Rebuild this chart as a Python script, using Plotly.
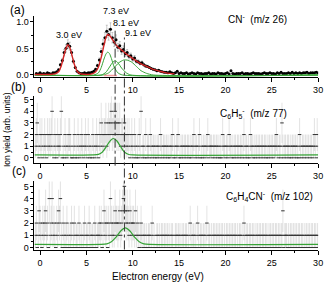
import plotly.graph_objects as go

# ---------------- data ----------------
# (a) CN- ion yield, energy grid -0.4 ... 30.0 eV step 0.2
A_START, A_STEP = -0.4, 0.2
CN_YIELD = [
    0.03, 0.02, 0.04, 0.02, 0.03,
    0.02, 0.04, 0.03, 0.02, 0.04,
    0.04, 0.06, 0.10, 0.19, 0.27,
    0.42, 0.50, 0.58, 0.54, 0.42,
    0.26, 0.14, 0.07, 0.04, 0.03,
    0.03, 0.04, 0.03, 0.04, 0.04,
    0.05, 0.07, 0.11, 0.18, 0.28,
    0.44, 0.58, 0.70, 0.82, 0.76,
    0.86, 0.70, 0.62, 0.66, 0.52,
    0.55, 0.45, 0.48, 0.40, 0.42,
    0.35, 0.36, 0.30, 0.32, 0.26,
    0.25, 0.22, 0.23, 0.19, 0.17,
    0.16, 0.14, 0.12, 0.11, 0.10,
    0.08, 0.09, 0.07, 0.06, 0.05,
    0.05, 0.04, 0.06, 0.04, 0.03,
    0.04, 0.07, 0.03, 0.04, 0.03,
    0.03, 0.04, 0.02, 0.03, 0.04,
    0.03, 0.02, 0.04, 0.03, 0.03,
    0.02, 0.03, 0.03, 0.04, 0.02,
    0.03, 0.03, 0.02, 0.04, 0.03,
    0.03, 0.02, 0.03, 0.04, 0.02,
    0.08, 0.03, 0.02, 0.03, 0.03,
    0.03, 0.04, 0.02, 0.03, 0.03,
    0.02, 0.03, 0.04, 0.03, 0.03,
    0.03, 0.02, 0.03, 0.04, 0.03,
    0.03, 0.04, 0.03, 0.03, 0.02,
    0.04, 0.03, 0.05, 0.03, 0.03,
    0.03, 0.04, 0.03, 0.05, 0.03,
    0.04, 0.03, 0.04, 0.03, 0.04,
    0.04, 0.05, 0.03, 0.04, 0.04,
    0.04, 0.05, 0.04,
]

# red total fit (a)
FIT_X = [-0.6, 1.0, 1.6, 2.0, 2.3, 2.6, 2.8, 3.0, 3.2, 3.4, 3.7, 4.0, 4.4, 5.0, 5.6, 6.0,
         6.3, 6.6, 6.9, 7.1, 7.3, 7.5, 7.8, 8.1, 8.5, 9.0, 9.5, 10.0, 10.5, 11.0, 11.5,
         12.0, 12.5, 13.0, 13.5, 14.0, 14.5]
FIT_Y = [0.01, 0.01, 0.02, 0.06, 0.18, 0.38, 0.50, 0.57, 0.52, 0.40, 0.20, 0.07, 0.02, 0.01, 0.02, 0.06,
         0.15, 0.33, 0.56, 0.70, 0.76, 0.74, 0.67, 0.59, 0.51, 0.44, 0.37, 0.31, 0.25, 0.20, 0.16,
         0.12, 0.09, 0.065, 0.045, 0.03, 0.02]

# green Gaussian components (a)
G1_X = [-0.6, 5.8, 6.3, 6.6, 6.9, 7.1, 7.3, 7.5, 7.7, 8.0, 8.4, 8.9, 30.0]
G1_Y = [0.0, 0.0, 0.04, 0.14, 0.30, 0.39, 0.43, 0.40, 0.31, 0.15, 0.04, 0.0, 0.0]
G2_X = [-0.6, 6.6, 7.1, 7.5, 7.8, 8.1, 8.4, 8.8, 9.3, 9.8, 30.0]
G2_Y = [0.0, 0.0, 0.05, 0.15, 0.23, 0.27, 0.23, 0.13, 0.04, 0.0, 0.0]
G3_X = [-0.6, 6.8, 7.4, 8.0, 8.5, 9.0, 9.4, 9.9, 10.4, 10.9, 11.5, 12.2, 30.0]
G3_Y = [0.0, 0.0, 0.04, 0.14, 0.23, 0.28, 0.28, 0.24, 0.16, 0.08, 0.03, 0.0, 0.0]
PINK_X = [6.9, 8.3]
PINK_Y = [-0.008, -0.008]

# (b) C6H5- and (c) C6H4CN- counts, energy grid -0.5 ... 30.0 eV step 0.1
BC_START, BC_STEP = -0.5, 0.1
C6H5_COUNTS = [
    1, 2, 3, 1, 0, 2, 1, 2, 0, 1,
    2, 1, 0, 2, 1, 2, 1, 2, 4, 1,
    0, 2, 1, 0, 2, 1, 1, 2, 4, 0,
    1, 0, 2, 1, 0, 1, 2, 2, 1, 0,
    0, 1, 2, 0, 1, 0, 2, 1, 0, 1,
    2, 1, 0, 1, 2, 1, 0, 2, 1, 0,
    1, 0, 2, 1, 0, 1, 2, 1, 0, 2,
    1, 3, 2, 1, 2, 2, 3, 1, 2, 3,
    2, 3, 4, 2, 3, 2, 4, 3, 2, 3,
    2, 3, 1, 2, 2, 1, 3, 2, 1, 2,
    1, 2, 0, 1, 2, 1, 0, 2, 1, 0,
    1, 0, 2, 1, 4, 0, 1, 1, 0, 2,
    0, 1, 1, 0, 2, 1, 0, 1, 1, 0,
    1, 0, 1, 1, 0, 2, 1, 0, 1, 1,
    0, 1, 1, 0, 1, 0, 1, 1, 2, 0,
    1, 0, 1, 1, 2, 0, 1, 0, 1, 1,
    0, 1, 1, 0, 1, 1, 0, 1, 0, 1,
    1, 2, 0, 1, 1, 0, 1, 2, 0, 1,
    0, 1, 1, 0, 1, 1, 2, 0, 1, 1,
    1, 0, 1, 1, 0, 1, 1, 0, 1, 0,
    1, 0, 2, 1, 1, 0, 1, 1, 0, 2,
    1, 1, 0, 1, 0, 1, 1, 0, 1, 1,
    0, 1, 1, 0, 1, 2, 0, 1, 1, 0,
    1, 0, 2, 1, 1, 0, 1, 0, 1, 1,
    0, 1, 1, 0, 1, 1, 0, 1, 1, 0,
    1, 0, 1, 1, 0, 1, 1, 0, 1, 1,
    2, 1, 0, 1, 1, 0, 3, 1, 0, 1,
    1, 0, 1, 1, 0, 1, 0, 1, 1, 0,
    1, 1, 0, 1, 0, 2, 1, 0, 1, 1,
    0, 1, 1, 0, 1, 1, 0, 1, 1, 0,
    1, 2, 1, 0, 2, 1,
]
C6H4CN_COUNTS = [
    1, 2, 0, 1, 3, 2, 1, 0, 2, 1,
    2, 3, 1, 2, 0, 4, 1, 2, 4, 1,
    2, 1, 0, 2, 1, 3, 2, 4, 1, 0,
    2, 1, 0, 1, 2, 0, 1, 0, 1, 2,
    0, 1, 2, 0, 1, 1, 0, 2, 1, 0,
    1, 0, 1, 2, 0, 1, 1, 0, 2, 1,
    0, 1, 1, 0, 2, 1, 0, 1, 1, 2,
    1, 2, 0, 1, 3, 2, 1, 2, 0, 2,
    1, 4, 2, 1, 2, 1, 3, 2, 2, 1,
    2, 3, 1, 2, 3, 4, 5, 3, 2, 3,
    2, 1, 3, 2, 1, 2, 2, 1, 3, 1,
    2, 1, 0, 1, 2, 1, 0, 1, 1, 0,
    1, 0, 1, 1, 0, 1, 2, 0, 1, 0,
    0, 1, 1, 0, 1, 0, 1, 1, 0, 1,
    1, 0, 1, 1, 0, 1, 0, 1, 1, 0,
    0, 1, 1, 0, 1, 1, 0, 1, 0, 1,
    1, 0, 1, 1, 0, 1, 0, 2, 1, 0,
    1, 1, 0, 1, 0, 2, 1, 0, 1, 1,
    0, 1, 1, 0, 1, 2, 0, 1, 1, 0,
    1, 0, 1, 1, 0, 1, 1, 0, 1, 1,
    0, 1, 1, 0, 1, 0, 1, 1, 0, 1,
    1, 0, 1, 1, 0, 1, 1, 0, 1, 0,
    1, 1, 0, 1, 0, 2, 1, 0, 1, 1,
    0, 1, 1, 0, 1, 1, 0, 1, 0, 1,
    1, 0, 1, 1, 0, 1, 1, 0, 1, 1,
    0, 1, 0, 1, 1, 0, 1, 1, 0, 1,
    1, 0, 1, 1, 0, 1, 1, 3, 0, 1,
    1, 1, 0, 1, 0, 1, 1, 0, 1, 1,
    0, 1, 1, 0, 1, 1, 0, 1, 1, 0,
    1, 0, 1, 1, 0, 1, 1, 0, 1, 1,
    0, 1, 1, 0, 1, 1,
]

# green fits (b), (c)
GB_X = [-0.6, 5.8, 6.3, 6.7, 7.1, 7.5, 7.9, 8.3, 8.7, 9.1, 9.5, 10.0, 30.0]
GB_Y = [0.25, 0.25, 0.30, 0.48, 0.90, 1.40, 1.66, 1.45, 0.95, 0.50, 0.31, 0.25, 0.25]
GC_X = [-0.6, 6.6, 7.2, 7.7, 8.2, 8.7, 9.2, 9.7, 10.2, 10.7, 11.2, 11.8, 30.0]
GC_Y = [0.25, 0.25, 0.30, 0.48, 0.85, 1.35, 1.60, 1.35, 0.85, 0.48, 0.30, 0.25, 0.25]

PEAK_MARKS = [8.1, 9.1]          # dash-dot guide lines (eV)
PEAK_LABELS = ["3.0 eV", "7.3 eV", "8.1 eV", "9.1 eV"]
TITLES = ["CN<sup>-</sup>  (m/z 26)",
          "C<sub>6</sub>H<sub>5</sub><sup>-</sup>  (m/z 77)",
          "C<sub>6</sub>H<sub>4</sub>CN<sup>-</sup>  (m/z 102)"]

XA = [round(A_START + A_STEP * i, 2) for i in range(len(CN_YIELD))]
XB = [round(BC_START + BC_STEP * i, 2) for i in range(len(C6H5_COUNTS))]
XC = [round(BC_START + BC_STEP * i, 2) for i in range(len(C6H4CN_COUNTS))]

# ---------------- figure ----------------
W, H = 331, 287
FONT = "Arial, Liberation Sans, sans-serif"
RED = "#d32424"
GREEN = "#36a336"
GREY = "rgba(120,120,120,0.55)"

fig = go.Figure()

# (a)
fig.add_trace(go.Scatter(x=XA, y=CN_YIELD, mode="markers", xaxis="x", yaxis="y",
                         marker=dict(symbol="circle", size=3, color="black"),
                         error_y=dict(type="percent", value=14, color=GREY, thickness=0.7, width=1)))
for gx, gy in [(G1_X, G1_Y), (G2_X, G2_Y), (G3_X, G3_Y)]:
    fig.add_trace(go.Scatter(x=gx, y=gy, mode="lines", xaxis="x", yaxis="y",
                             line=dict(color=GREEN, width=1, shape="spline", smoothing=0.6)))
fig.add_trace(go.Scatter(x=PINK_X, y=PINK_Y, mode="lines", xaxis="x", yaxis="y",
                         line=dict(color="#f29a9a", width=1.5)))
fig.add_trace(go.Scatter(x=FIT_X, y=FIT_Y, mode="lines", xaxis="x", yaxis="y",
                         line=dict(color=RED, width=1.4, shape="spline", smoothing=0.6)))

# (b), (c)
for xs, ys, gx, gy, xa, ya in [(XB, C6H5_COUNTS, GB_X, GB_Y, "x2", "y2"),
                               (XC, C6H4CN_COUNTS, GC_X, GC_Y, "x3", "y3")]:
    fig.add_trace(go.Scatter(x=xs, y=ys, mode="markers", xaxis=xa, yaxis=ya,
                             marker=dict(symbol="line-ew", size=2.5, color="black",
                                         line=dict(width=1, color="#333")),
                             error_y=dict(type="sqrt", color="rgba(160,160,160,0.5)",
                                          thickness=0.6, width=0)))
    fig.add_trace(go.Scatter(x=gx, y=gy, mode="lines", xaxis=xa, yaxis=ya,
                             line=dict(color=GREEN, width=1.2, shape="spline", smoothing=0.6)))

def px_x(p):
    return p / W

def px_y(p):
    return 1 - p / H

XR = [-0.6, 30.0]
XDOM = [px_x(35), px_x(323)]
axis_common = dict(showline=True, linecolor="black", linewidth=1, showgrid=False, zeroline=False,
                   ticks="outside", tickcolor="black", tickwidth=1,
                   tickfont=dict(family=FONT, size=9, color="black"))

def xax(anchor):
    return dict(axis_common, range=XR, domain=XDOM, anchor=anchor, dtick=5, tick0=0, ticklen=4,
                minor=dict(dtick=2.5, tick0=0, ticklen=2, ticks="outside", tickcolor="black"))

def yax(anchor, rng, dom, dtick):
    return dict(axis_common, range=rng, domain=dom, anchor=anchor, dtick=dtick, tick0=0, ticklen=3,
                minor=dict(dtick=dtick / 2, tick0=0, ticklen=2, ticks="outside", tickcolor="black"))

fig.update_layout(
    width=W, height=H, margin=dict(l=0, r=0, t=0, b=0),
    paper_bgcolor="white", plot_bgcolor="white", showlegend=False,
    font=dict(family=FONT, color="black"),
    xaxis=xax("y"), xaxis2=xax("y2"), xaxis3=xax("y3"),
    yaxis=dict(yax("x", [-0.04, 1.1], [px_y(77.2), px_y(15.6)], 0.5), tickformat=".1f"),
    yaxis2=yax("x2", [-0.42, 5.3], [px_y(164), px_y(96.5)], 1),
    yaxis3=yax("x3", [-0.2, 5.4], [px_y(252.5), px_y(183)], 1),
)

# dash-dot guide lines
line_spans = [(27, 167), (37, 252)]
for xv, (top, bot) in zip(PEAK_MARKS, line_spans):
    fig.add_shape(type="line", xref="x", yref="paper", x0=xv, x1=xv,
                  y0=px_y(bot), y1=px_y(top),
                  line=dict(color="#333", width=1, dash="dashdot"))

ann = []
for t, (px, py) in zip(["(a)", "(b)", "(c)"], [(8, 9), (9, 87), (10, 172)]):
    ann.append(dict(text=t, xref="paper", yref="paper", x=px_x(px), y=px_y(py),
                    xanchor="left", yanchor="middle", showarrow=False, font=dict(size=12)))
for t, (pxr, py) in zip(TITLES, [(293, 18), (293, 114), (320, 198)]):
    ann.append(dict(text=t, xref="paper", yref="paper", x=px_x(pxr), y=px_y(py),
                    xanchor="right", yanchor="middle", showarrow=False, font=dict(size=10)))
for t, (xv, py) in zip(PEAK_LABELS, [(3.1, 34), (8.2, 10), (9.3, 22), (10.6, 32)]):
    ann.append(dict(text=t, xref="x", yref="paper", x=xv, y=px_y(py),
                    xanchor="center", yanchor="middle", showarrow=False, font=dict(size=9)))
ann.append(dict(text="Ion yield (arb. units)", xref="paper", yref="paper", x=px_x(7), y=px_y(130),
                textangle=-90, xanchor="center", yanchor="middle", showarrow=False, font=dict(size=8.5)))
ann.append(dict(text="Electron energy (eV)", xref="paper", yref="paper", x=px_x(160), y=px_y(279),
                xanchor="center", yanchor="middle", showarrow=False, font=dict(size=10)))
fig.update_layout(annotations=ann)

fig.write_html("out.html")
